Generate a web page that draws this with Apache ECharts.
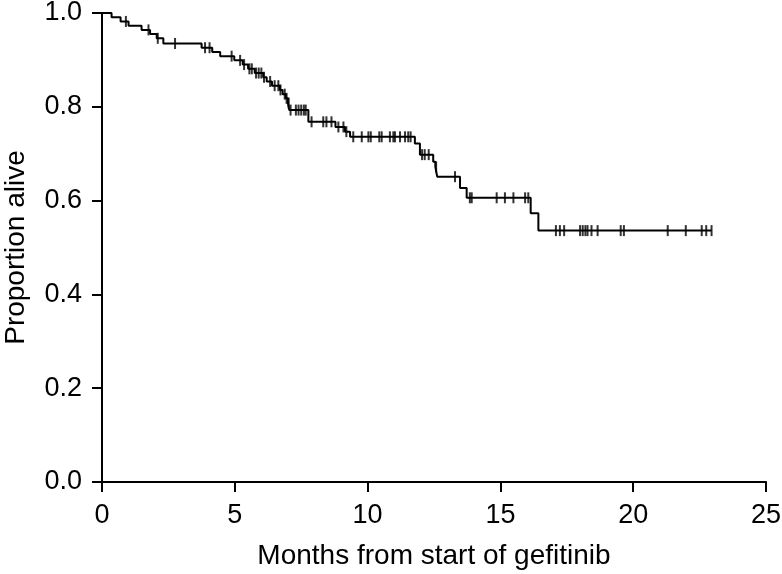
<!DOCTYPE html>
<html>
<head>
<meta charset="utf-8">
<script src="https://cdn.jsdelivr.net/npm/echarts@6/dist/echarts.min.js"></script>
<style>
html,body{margin:0;padding:0;background:#fff;}
#chart{width:782px;height:574px;}
</style>
</head>
<body>
<div id="chart"></div>
<script>
// Kaplan-Meier step points: time of drop (months) and survival level after it
const survTimes = [0, 0.36, 0.70, 1.00, 1.49, 1.81, 2.06, 2.31, 3.75, 4.15, 4.45, 4.98, 5.30, 5.50, 5.75, 6.07, 6.20, 6.40, 6.70, 6.80, 6.92, 7.00, 7.05, 7.77, 8.79, 9.15, 9.34, 11.78, 11.97, 12.47, 12.55, 12.62, 13.48, 13.73, 16.14, 16.43, 22.95];
const survProb  = [1.0, 0.991, 0.982, 0.973, 0.964, 0.955, 0.946, 0.935, 0.926, 0.917, 0.908, 0.899, 0.890, 0.881, 0.872, 0.863, 0.854, 0.845, 0.836, 0.827, 0.818, 0.808, 0.793, 0.768, 0.757, 0.747, 0.736, 0.722, 0.698, 0.683, 0.672, 0.651, 0.627, 0.606, 0.573, 0.536, 0.536];
// Censoring times (months)
const censorTimes = [0.9, 1.75, 2.1, 2.75, 3.88, 4.05, 4.88, 5.2, 5.35, 5.55, 5.64, 5.8, 5.9, 6.0, 6.1, 6.33, 6.5, 6.64, 6.72, 6.88, 6.95, 7.03, 7.1, 7.3, 7.4, 7.5, 7.6, 7.67, 7.89, 8.33, 8.45, 8.64, 8.9, 9.09, 9.2, 9.46, 9.78, 10.03, 10.12, 10.44, 10.53, 10.84, 10.97, 11.03, 11.22, 11.41, 11.53, 11.62, 12.05, 12.15, 12.3, 12.58, 13.29, 13.85, 13.92, 14.86, 15.17, 15.49, 15.93, 16.05, 17.09, 17.24, 17.4, 18.0, 18.1, 18.2, 18.28, 18.43, 18.66, 19.53, 19.65, 21.3, 21.98, 22.58, 22.75, 22.95];
const xTicks = [0, 5, 10, 15, 20, 25];
const yTicks = [0.0, 0.2, 0.4, 0.6, 0.8, 1.0];
const xTitle = 'Months from start of gefitinib';
const yTitle = 'Proportion alive';

function levelAt(t) {
  let s = survProb[0];
  for (let i = 0; i < survTimes.length; i++) {
    if (survTimes[i] <= t) s = survProb[i]; else break;
  }
  return s;
}
const stepData = survTimes.map((t, i) => [t, survProb[i]]);
const censorData = censorTimes.map(t => [t, levelAt(t)]);

const FONT = 'Liberation Sans, Arial, Helvetica, sans-serif';
const chart = echarts.init(document.getElementById('chart'), null, {renderer: 'canvas'});
chart.setOption({
  animation: false,
  backgroundColor: '#fff',
  grid: {left: 102, right: 16, top: 13, bottom: 92, containLabel: false, outerBoundsMode: 'none'},
  xAxis: {
    type: 'value', min: xTicks[0], max: xTicks[xTicks.length - 1], interval: 5,
    name: xTitle, nameLocation: 'middle', nameGap: 60,
    nameTextStyle: {fontFamily: FONT, fontSize: 28, color: '#000'},
    axisLine: {show: true, onZero: false, lineStyle: {color: '#000', width: 2}},
    axisTick: {show: true, inside: false, length: 10, lineStyle: {color: '#000', width: 2}},
    axisLabel: {fontFamily: FONT, fontSize: 27, color: '#000', margin: 20},
    splitLine: {show: false}
  },
  yAxis: {
    type: 'value', min: yTicks[0], max: yTicks[yTicks.length - 1], interval: 0.2,
    name: yTitle, nameLocation: 'middle', nameGap: 72, nameRotate: 90,
    nameTextStyle: {fontFamily: FONT, fontSize: 28, color: '#000'},
    axisLine: {show: true, onZero: false, lineStyle: {color: '#000', width: 2}},
    axisTick: {show: true, inside: false, length: 10, lineStyle: {color: '#000', width: 2}},
    axisLabel: {fontFamily: FONT, fontSize: 27, color: '#000', margin: 20,
      formatter: v => v.toFixed(1)},
    splitLine: {show: false}
  },
  series: [
    {
      type: 'line', step: 'end', data: stepData, showSymbol: false, symbol: 'none',
      lineStyle: {color: '#000', width: 2}, z: 3
    },
    {
      type: 'scatter', data: censorData,
      symbol: 'path://M0,0 L1,0 L1,10 L0,10 Z', symbolSize: [2, 11],
      itemStyle: {color: '#000'}, z: 4
    }
  ]
});
</script>
</body>
</html>
